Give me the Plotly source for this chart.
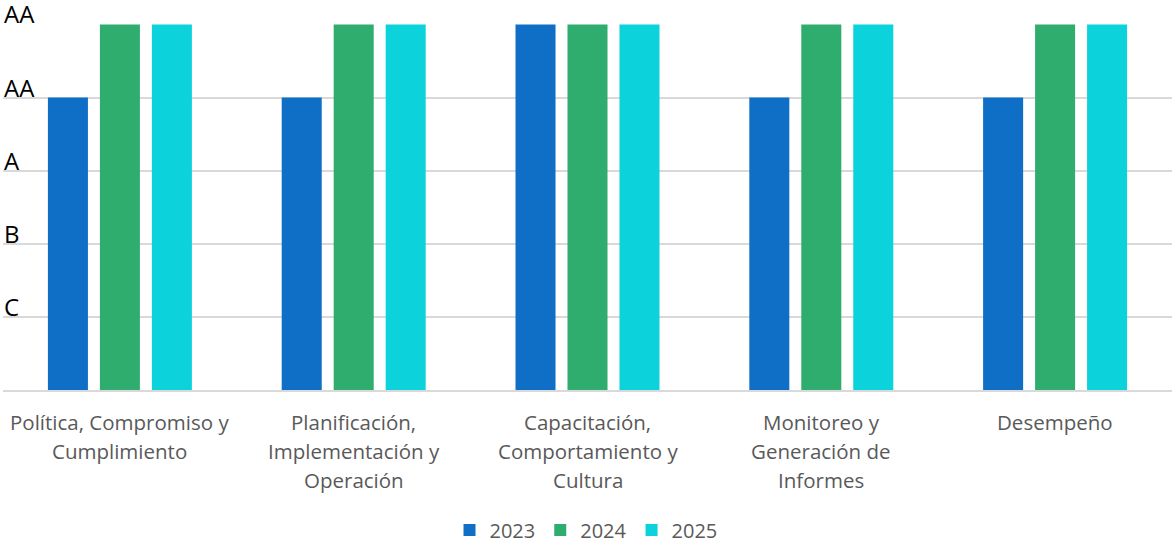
import plotly.graph_objects as go

categories = [
    "Política, Compromiso y\nCumplimiento",
    "Planificación,\nImplementación y\nOperación",
    "Capacitación,\nComportamiento y\nCultura",
    "Monitoreo y\nGeneración de\nInformes",
    "Desempeño",
]
series_names = ["2023", "2024", "2025"]
values_2023 = [4, 4, 5, 4, 4]
values_2024 = [5, 5, 5, 5, 5]
values_2025 = [5, 5, 5, 5, 5]
y_levels = [1, 2, 3, 4, 5]
y_labels = ["C", "B", "A", "AA", "AA"]

colors = ["#0F6FC6", "#2EAD6E", "#0CD2DC"]
series_values = [values_2023, values_2024, values_2025]

fig = go.Figure()
for name, vals, col in zip(series_names, series_values, colors):
    fig.add_trace(go.Bar(name=name, x=categories, y=vals, marker_color=col,
                         marker_line_width=0))

annotations = []
for cat in categories:
    for i, line in enumerate(cat.split("\n")):
        annotations.append(dict(
            x=cat, y=0, xref="x", yref="paper", text=line, showarrow=False,
            yanchor="middle", xanchor="center", yshift=-32 - 29 * i,
            font=dict(family="Open Sans", size=20.5, color="#595959")))
for lv, lab in zip(y_levels, y_labels):
    annotations.append(dict(
        x=0, y=lv, xref="paper", yref="y", text=lab, showarrow=False,
        xanchor="left", yanchor="bottom", yshift=-8, xshift=-1,
        font=dict(family="Open Sans", size=24, color="#000000")))

fig.update_layout(
    width=1172, height=544,
    margin=dict(l=3, r=0, t=24, b=154, autoexpand=False),
    plot_bgcolor="white", paper_bgcolor="white",
    barmode="group", bargap=0.333, bargroupgap=0.23,
    showlegend=True,
    legend=dict(orientation="h", x=0.5, xanchor="center", xref="container",
                y=-0.3825, yanchor="middle", yref="paper",
                font=dict(family="Open Sans", size=20, color="#595959"),
                itemwidth=30, traceorder="normal"),
    annotations=annotations,
    xaxis=dict(showticklabels=False, showgrid=False, zeroline=False, showline=True,
               linecolor="#D9D9D9", linewidth=2,
               categoryorder="array", categoryarray=categories),
    yaxis=dict(range=[0, 5.006], tickvals=y_levels, showticklabels=False,
               showgrid=True, gridcolor="#D9D9D9", gridwidth=2, zeroline=False,
               showline=False),
)

fig.write_html("out.html", config={"displayModeBar": False},
               post_script="document.body.style.margin='0';document.body.style.padding='0';")
